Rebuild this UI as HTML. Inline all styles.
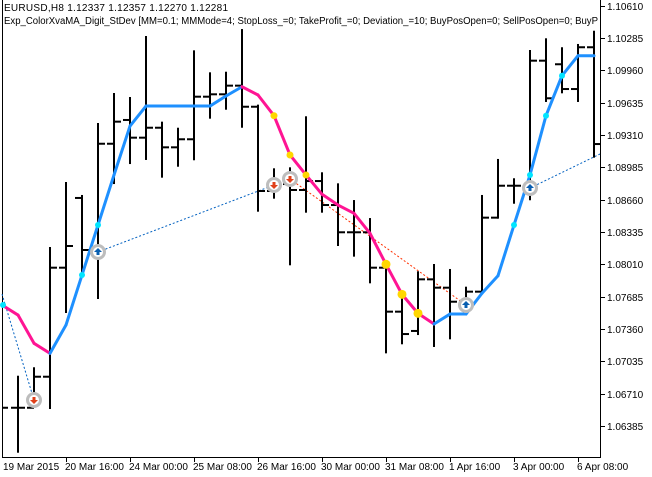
<!DOCTYPE html>
<html><head><meta charset="utf-8"><style>
html,body{margin:0;padding:0;background:#fff;}
svg{display:block;font-family:"Liberation Sans","DejaVu Sans",sans-serif;font-size:10px;}
</style></head><body>
<svg id="chart" width="652" height="477" viewBox="0 0 652 477" xmlns="http://www.w3.org/2000/svg">
<rect x="0" y="0" width="652" height="477" fill="#fff"/>
<g id="frame">
<line x1="2.5" y1="0" x2="2.5" y2="457.5" stroke="#000"/>
<line x1="2" y1="457.5" x2="600.5" y2="457.5" stroke="#000"/>
<line x1="600.5" y1="0" x2="600.5" y2="458" stroke="#000"/>
</g>
<g id="yaxis"></g>
<g id="xaxis"></g>
<g id="dashes"></g>
<g id="bars"></g>
<g id="ma"></g>
<g id="dots"></g>
<g id="trades"></g>
<text x="4" y="11" textLength="224" lengthAdjust="spacing">EURUSD,H8  1.12337 1.12357 1.12270 1.12281</text>
<text x="4" y="24" textLength="594" lengthAdjust="spacingAndGlyphs">Exp_ColorXvaMA_Digit_StDev [MM=0.1; MMMode=4; StopLoss_=0; TakeProfit_=0; Deviation_=10; BuyPosOpen=0; SellPosOpen=0; BuyP</text>
</svg>
<script>
const opens=[1.06568,1.06568,1.06880,1.07976,1.08677,1.08154,1.09222,1.09461,1.09283,1.09383,1.09186,1.09267,1.09695,1.09719,1.09806,1.09594,1.08747,1.08817,1.08757,1.08847,1.08606,1.08332,1.08332,1.07976,1.07534,1.07340,1.07859,1.07775,1.07634,1.07735,1.08479,1.08800,1.08800,1.10057,1.10021,1.09772,1.10192];
const highs=[1.06880,1.06965,1.08174,1.08827,1.08697,1.09420,1.09722,1.09682,1.10295,1.09434,1.09373,1.10151,1.09930,1.09936,1.10365,1.09605,1.08965,1.08975,1.09488,1.08925,1.08814,1.08646,1.08465,1.08010,1.07708,1.07930,1.08003,1.07953,1.07775,1.08697,1.09059,1.08865,1.10154,1.10272,1.10182,1.10215,1.10348];
const lows=[1.06126,1.06646,1.06565,1.07531,1.07902,1.07671,1.08827,1.09028,1.09069,1.08891,1.09001,1.09066,1.09484,1.09574,1.09393,1.08549,1.08680,1.08010,1.08539,1.08539,1.08204,1.08097,1.07829,1.07125,1.07216,1.07309,1.07189,1.07266,1.07601,1.07719,1.08479,1.08629,1.08664,1.09652,1.09739,1.09652,1.09092];
const closes=[1.06568,1.06880,1.07976,1.08194,1.08154,1.09222,1.09444,1.09283,1.09383,1.09186,1.09267,1.09695,1.09719,1.09806,1.09594,1.08747,1.08817,1.08757,1.08847,1.08606,1.08332,1.08332,1.07976,1.07534,1.07309,1.07859,1.07775,1.07634,1.07735,1.08479,1.08800,1.08800,1.10057,1.09679,1.09772,1.10192,1.09219];
const prevClose=1.06568;
const maStart=1.07601;
const maValues=[1.07500,1.07216,1.07115,1.07400,1.07902,1.08405,1.08908,1.09400,1.09601,1.09601,1.09601,1.09601,1.09601,1.09702,1.09795,1.09712,1.09504,1.09109,1.08908,1.08714,1.08606,1.08523,1.08322,1.08010,1.07708,1.07517,1.07410,1.07510,1.07510,1.07719,1.07895,1.08405,1.08908,1.09504,1.09906,1.10107,1.10107];
const cyanDots=[4,5,31,32,33,34];
const yellowSmall=[16,17,18];
const yellowBig=[23,24,25];
const tradeBars=[1,5,16,17,28,32];
const tradeTypes=["sell","buy","sell","sell","buy","buy"];
const tradePrices=[1.06646,1.08134,1.08807,1.08868,1.07601,1.08777];
const startLinkPrice=1.07711;
const endLinkPrice=1.09119;
const priceTicks=[1.10610,1.10285,1.09960,1.09635,1.09310,1.08985,1.08660,1.08335,1.08010,1.07685,1.07360,1.07035,1.06710,1.06385];
const timeLabels=["19 Mar 2015","20 Mar 16:00","24 Mar 00:00","25 Mar 08:00","26 Mar 16:00","30 Mar 00:00","31 Mar 08:00","1 Apr 16:00","3 Apr 00:00","6 Apr 08:00"];
const timeLabelBars=[-1,3,7,11,15,19,23,27,31,35];

const NS="http://www.w3.org/2000/svg";
function X(i){return 18+16*i;}
function Y(p){return 38+(1.10285-p)/0.00325*32.33;}
function mk(tag,attrs,parent){const e=document.createElementNS(NS,tag);for(const k in attrs)e.setAttribute(k,attrs[k]);parent.appendChild(e);return e;}
const gy=document.getElementById('yaxis'),gx=document.getElementById('xaxis'),gb=document.getElementById('bars'),gm=document.getElementById('ma'),gd=document.getElementById('dots'),gt=document.getElementById('trades'),gl=document.getElementById('dashes');

priceTicks.forEach(p=>{const y=Math.round(Y(p))+0.5;
 const t=mk('line',{x1:600,y1:y,x2:605,y2:y,stroke:'#000'},gy);
 
 
 const l=mk('text',{x:607,y:y+3.5},gy);l.textContent=p.toFixed(5);
 
 
});
timeLabels.forEach((s,k)=>{const x=k===0?3:X(timeLabelBars[k]);
 if(k>0){const t=mk('line',{x1:x+0.5,y1:457,x2:x+0.5,y2:462,stroke:'#000'},gx);
  
  }
 const l=mk('text',{x:k===0?3:x-1,y:470},gx);l.textContent=s;
 
 
});
const pc=mk('line',{x1:2,y1:Y(prevClose),x2:8,y2:Y(prevClose),stroke:'#000','stroke-width':2},gb);


opens.forEach((o,i)=>{const x=X(i);
 const g=mk('g',{},gb);
 
 
 mk('line',{x1:x,y1:Y(highs[i])-1,x2:x,y2:Y(lows[i])+1,stroke:'#000','stroke-width':2},g);
 mk('line',{x1:x-7,y1:Y(o),x2:x,y2:Y(o),stroke:'#000','stroke-width':2},g);
 mk('line',{x1:x,y1:Y(closes[i]),x2:x+7,y2:Y(closes[i]),stroke:'#000','stroke-width':2},g);
});
function dash(x1,y1,x2,y2,c,name){const l=mk('line',{x1:x1,y1:y1,x2:x2,y2:y2,stroke:c,'stroke-width':1,'stroke-dasharray':'2,2'},gl);
 
 }
dash(2,Y(startLinkPrice),X(tradeBars[0]),Y(tradePrices[0]),'#0060c0','trade-link-line');
dash(X(tradeBars[1]),Y(tradePrices[1]),X(tradeBars[2]),Y(tradePrices[2]),'#0060c0','trade-link-line');
dash(X(tradeBars[3]),Y(tradePrices[3]),X(tradeBars[4]),Y(tradePrices[4]),'#ff3000','trade-link-line');
dash(X(tradeBars[5]),Y(tradePrices[5]),600,Y(endLinkPrice),'#0060c0','trade-link-line');
const pts=[[2,Y(maStart)]].concat(maValues.map((v,i)=>[X(i),Y(v)]));
const vals=[maStart].concat(maValues);
let col='#ff1493';
for(let k=0;k<pts.length-1;k++){
 if(vals[k+1]<vals[k])col='#ff1493';else if(vals[k+1]>vals[k])col='#1e90ff';
 const s=mk('line',{x1:pts[k][0],y1:pts[k][1],x2:pts[k+1][0],y2:pts[k+1][1],stroke:col,'stroke-width':3,'stroke-linecap':'round'},gm);
 
 
}
function dot(x,y,r,c){const d=mk('circle',{cx:x,cy:y,r:r,fill:c},gd);
 
 }
dot(3,Y(maStart),3,'#00e5ff');
cyanDots.forEach(i=>dot(X(i),Y(maValues[i]),3,'#00e5ff'));
yellowSmall.forEach(i=>dot(X(i),Y(maValues[i]),3.5,'#ffd700'));
yellowBig.forEach(i=>dot(X(i),Y(maValues[i]),4.5,'#ffd700'));
tradeBars.forEach((b,k)=>{const x=X(b),y=Y(tradePrices[k]);
 const g=mk('g',{},gt);
 
 
 mk('circle',{cx:x,cy:y,r:6.5,fill:'#fff',stroke:'#bdbdbd','stroke-width':3},g);
 if(tradeTypes[k]==='buy'){
  mk('path',{d:`M${x-4} ${y} L${x} ${y-4} L${x+4} ${y} L${x+1.5} ${y} L${x+1.5} ${y+3} L${x-1.5} ${y+3} L${x-1.5} ${y} Z`,fill:'#0a5fb0'},g);
 } else {
  mk('path',{d:`M${x-4} ${y} L${x} ${y+4} L${x+4} ${y} L${x+1.5} ${y} L${x+1.5} ${y-3} L${x-1.5} ${y-3} L${x-1.5} ${y} Z`,fill:'#e0401a'},g);
 }
});
</script>
</body></html>
